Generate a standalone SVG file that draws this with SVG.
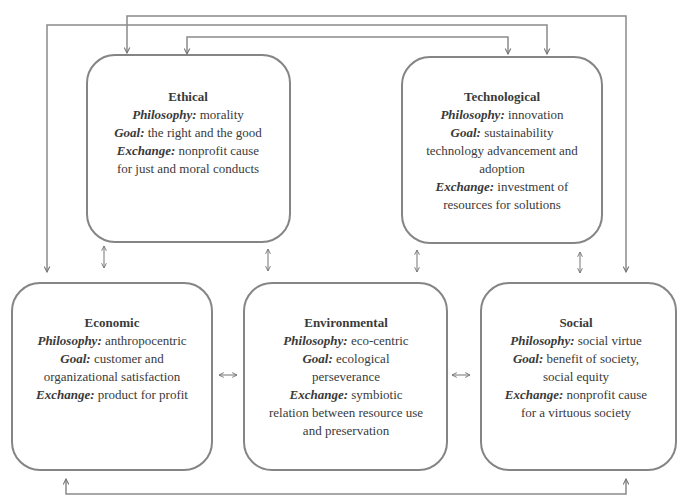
<svg xmlns="http://www.w3.org/2000/svg" width="678" height="496" viewBox="0 0 678 496">
<style>
.box{fill:#fff;stroke:#858585;stroke-width:2}
.t{font-family:"Liberation Serif","Times New Roman",serif;font-size:13px;fill:#3a3a3a;text-anchor:middle}
.h{font-weight:bold}
.k{font-weight:bold;font-style:italic}
.c{fill:none;stroke:#8a8a8a;stroke-width:1.5}
.d{fill:none;stroke:#8a8a8a;stroke-width:1.2}
</style>
<defs>
<marker id="ah" viewBox="0 0 10 10" refX="9" refY="5" markerWidth="7" markerHeight="7" orient="auto-start-reverse" markerUnits="userSpaceOnUse">
<path d="M1,1 L9,5 L1,9" fill="none" stroke="#777" stroke-width="1.6"/>
</marker>
<marker id="sh" viewBox="0 0 10 10" refX="9" refY="5" markerWidth="6" markerHeight="6" orient="auto-start-reverse" markerUnits="userSpaceOnUse">
<path d="M1,1 L9,5 L1,9" fill="none" stroke="#777" stroke-width="1.6"/>
</marker>
</defs>
<rect width="678" height="496" fill="#fff"/>
<g id="connectors">
<path class="c" d="M127,53 V16 H626 V272" marker-start="url(#ah)" marker-end="url(#ah)"/>
<path class="c" d="M47,272 V25 H547 V54" marker-start="url(#ah)" marker-end="url(#ah)"/>
<path class="c" d="M187,54 V37 H508 V54" marker-start="url(#ah)" marker-end="url(#ah)"/>
<path class="c" d="M66,479 V494 H626 V479" marker-start="url(#ah)" marker-end="url(#ah)"/>
<path class="d" d="M104,246 V268" marker-start="url(#sh)" marker-end="url(#sh)"/>
<path class="d" d="M268,249 V271" marker-start="url(#sh)" marker-end="url(#sh)"/>
<path class="d" d="M417,250 V272" marker-start="url(#sh)" marker-end="url(#sh)"/>
<path class="d" d="M580,252 V273" marker-start="url(#sh)" marker-end="url(#sh)"/>
<path class="d" d="M219,375 H237" marker-start="url(#sh)" marker-end="url(#sh)"/>
<path class="d" d="M452,375 H470" marker-start="url(#sh)" marker-end="url(#sh)"/>
</g>
<g id="ethical">
<rect class="box" x="87" y="55" width="203" height="187" rx="28"/>
<text class="t" x="188" y="101"><tspan class="h">Ethical</tspan></text>
<text class="t" x="188" y="119"><tspan class="k">Philosophy:</tspan> morality</text>
<text class="t" x="188" y="137"><tspan class="k">Goal:</tspan> the right and the good</text>
<text class="t" x="188" y="155"><tspan class="k">Exchange:</tspan> nonprofit cause</text>
<text class="t" x="188" y="173">for just and moral conducts</text>
</g>
<g id="technological">
<rect class="box" x="402" y="57" width="200" height="186" rx="28"/>
<text class="t" x="502" y="101"><tspan class="h">Technological</tspan></text>
<text class="t" x="502" y="119"><tspan class="k">Philosophy:</tspan> innovation</text>
<text class="t" x="502" y="137"><tspan class="k">Goal:</tspan> sustainability</text>
<text class="t" x="502" y="155">technology advancement and</text>
<text class="t" x="502" y="173">adoption</text>
<text class="t" x="502" y="191"><tspan class="k">Exchange:</tspan> investment of</text>
<text class="t" x="502" y="209">resources for solutions</text>
</g>
<g id="economic">
<rect class="box" x="12" y="283" width="200" height="187" rx="28"/>
<text class="t" x="112" y="327"><tspan class="h">Economic</tspan></text>
<text class="t" x="112" y="345"><tspan class="k">Philosophy:</tspan> anthropocentric</text>
<text class="t" x="112" y="363"><tspan class="k">Goal:</tspan> customer and</text>
<text class="t" x="112" y="381">organizational satisfaction</text>
<text class="t" x="112" y="399"><tspan class="k">Exchange:</tspan> product for profit</text>
</g>
<g id="environmental">
<rect class="box" x="244" y="283" width="203" height="187" rx="28"/>
<text class="t" x="346" y="327"><tspan class="h">Environmental</tspan></text>
<text class="t" x="346" y="345"><tspan class="k">Philosophy:</tspan> eco-centric</text>
<text class="t" x="346" y="363"><tspan class="k">Goal:</tspan> ecological</text>
<text class="t" x="346" y="381">perseverance</text>
<text class="t" x="346" y="399"><tspan class="k">Exchange:</tspan> symbiotic</text>
<text class="t" x="346" y="417">relation between resource use</text>
<text class="t" x="346" y="435">and preservation</text>
</g>
<g id="social">
<rect class="box" x="481" y="283" width="195" height="187" rx="28"/>
<text class="t" x="576" y="327"><tspan class="h">Social</tspan></text>
<text class="t" x="576" y="345"><tspan class="k">Philosophy:</tspan> social virtue</text>
<text class="t" x="576" y="363"><tspan class="k">Goal:</tspan> benefit of society,</text>
<text class="t" x="576" y="381">social equity</text>
<text class="t" x="576" y="399"><tspan class="k">Exchange:</tspan> nonprofit cause</text>
<text class="t" x="576" y="417">for a virtuous society</text>
</g>
</svg>
